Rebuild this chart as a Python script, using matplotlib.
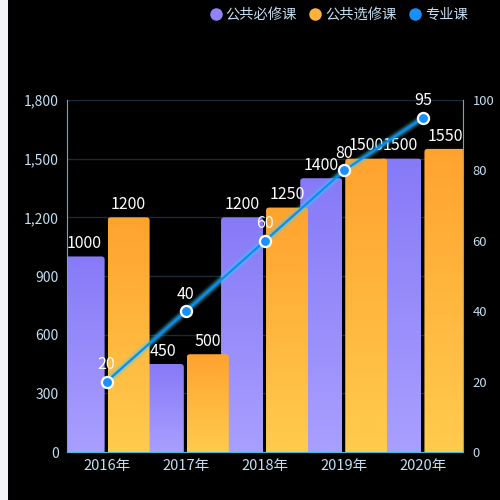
import numpy as np
import matplotlib
matplotlib.use("Agg")
import matplotlib.pyplot as plt
from matplotlib.patches import Rectangle, FancyBboxPatch
from matplotlib.lines import Line2D
from matplotlib.ticker import FuncFormatter

plt.rcParams['font.family'] = ['Noto Sans CJK SC', 'DejaVu Sans']

years = ["2016年", "2017年", "2018年", "2019年", "2020年"]
required = [1000, 450, 1200, 1400, 1500]
elective = [1200, 500, 1250, 1500, 1550]
major = [20, 40, 60, 80, 95]

legend_names = ["公共必修课", "公共选修课", "专业课"]

tick_color = "#c2def0"
axis_color = "#4fb3dc"
grid_color = "#1a2a38"

# y-units per pixel divided by x-units per pixel, so corners stay round
ASPECT = (1800 / 352) / (5 / 396)


def gradient_bar(ax, x0, x1, height, top, bottom):
    top = np.array(matplotlib.colors.to_rgb(top))
    bottom = np.array(matplotlib.colors.to_rgb(bottom))
    t = np.linspace(0, 1, 128)[:, None]
    img = (top * (1 - t) + bottom * t)[:, None, :]
    im = ax.imshow(img, extent=(x0, x1, 0, height), origin='upper',
                   aspect='auto', zorder=2, interpolation='bilinear')
    box = FancyBboxPatch((x0, -20), x1 - x0, height + 20,
                         boxstyle="round,pad=0,rounding_size=0.04",
                         mutation_aspect=ASPECT, facecolor='none',
                         edgecolor='none', zorder=2.5)
    ax.add_patch(box)
    im.set_clip_path(box)
    im.set_clip_box(ax.bbox)


fig = plt.figure(figsize=(5, 5), dpi=100, facecolor='black')
# light strip at the left edge
fig.patches.append(Rectangle((0, 0), 8 / 500, 1, transform=fig.transFigure,
                             facecolor='#f2f3f8', edgecolor='none', zorder=0))

ax = fig.add_axes([67 / 500, 48 / 500, 396 / 500, 352 / 500])
ax.set_facecolor('black')

x = np.arange(len(years))
for i in x:
    gradient_bar(ax, i - 0.555, i - 0.025, required[i], '#877af7', '#a99fff')
    ax.text(i - 0.29, required[i] + 22, str(required[i]), ha='center',
            va='bottom', color='white', fontsize=11.5, zorder=5)
for i in x:
    gradient_bar(ax, i + 0.013, i + 0.543, elective[i], '#ffa32f', '#ffcb4e')
    ax.text(i + 0.278, elective[i] + 22, str(elective[i]), ha='center',
            va='bottom', color='white', fontsize=11.5, zorder=5)

ax.set_xlim(-0.5, 4.5)
ax.set_ylim(0, 1800)
ax.set_yticks(range(0, 1801, 300))
ax.yaxis.set_major_formatter(FuncFormatter(lambda v, p: f"{int(v):,}"))
ax.set_xticks(x)
ax.set_xticklabels(years)
ax.grid(axis='y', color=grid_color, linewidth=1, zorder=0)
ax.set_axisbelow(True)
ax.tick_params(axis='both', length=0, colors=tick_color)
ax.tick_params(axis='y', pad=6, labelsize=10)
ax.tick_params(axis='x', pad=5, labelsize=10.5)
for s in ['top', 'right']:
    ax.spines[s].set_visible(False)
ax.spines['left'].set_color(axis_color)
ax.spines['bottom'].set_color(axis_color)

ax2 = ax.twinx()
ax2.set_ylim(0, 100)
ax2.set_yticks(range(0, 101, 20))
ax2.tick_params(axis='y', length=0, colors=tick_color, labelsize=9.4, pad=7)
for s in ['top', 'left', 'bottom']:
    ax2.spines[s].set_visible(False)
ax2.spines['right'].set_color(axis_color)

# glow under the line
for lw, a in [(7, 0.10), (5, 0.18), (3.5, 0.3)]:
    ax2.plot(x, major, color='#35d0ff', linewidth=lw, alpha=a,
             solid_capstyle='round', zorder=3)
ax2.plot(x, major, color='#0a8cf0', linewidth=1.6, marker='o',
         markersize=8, markerfacecolor='#1890ff', markeredgecolor='white',
         markeredgewidth=1.6, zorder=4)
for i in x:
    ax2.annotate(str(major[i]), (i, major[i]), xytext=(0, 6),
                 textcoords='offset points', ha='center', va='bottom',
                 color='white', fontsize=11.5, zorder=6)

handles = [Line2D([], [], linestyle='none', marker='o', markersize=8,
                  markerfacecolor=c, markeredgecolor=c)
           for c in ['#9183f9', '#ffb23a', '#1890ff']]
fig.legend(handles, legend_names, loc='upper right', ncol=3,
           bbox_to_anchor=(0.962, 1.01), frameon=False, fontsize=10.3,
           labelcolor=tick_color, handletextpad=0.2, columnspacing=0.8,
           handlelength=1.0)

fig.savefig("out.png", dpi=100, facecolor='black')
